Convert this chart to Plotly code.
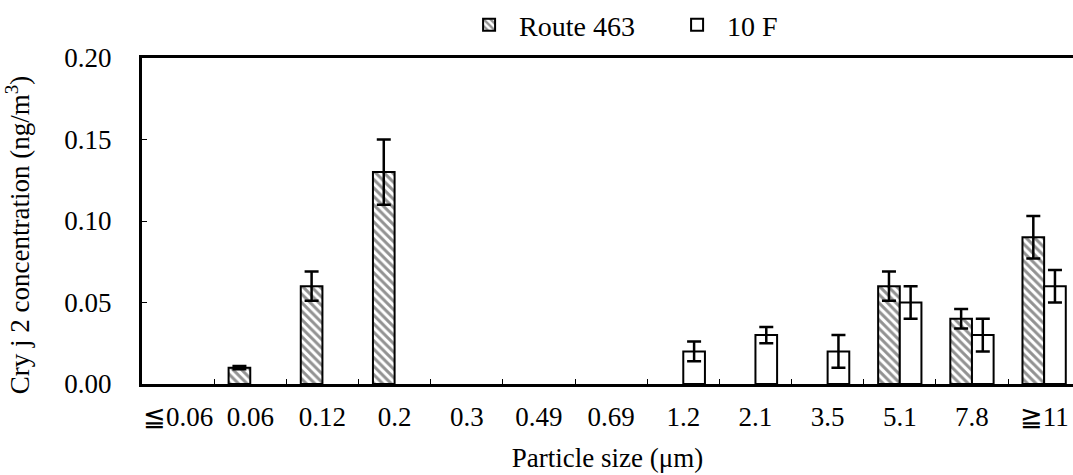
import plotly.graph_objects as go

# Particle size classes (μm) of the cascade impactor stages
sizes = ["≦0.06", "0.06", "0.12", "0.2", "0.3", "0.49", "0.69",
         "1.2", "2.1", "3.5", "5.1", "7.8", "≧11"]

# Cry j 2 concentration (ng/m3) and standard deviation at each site
route463 = [None, 0.01, 0.06, 0.13, None, None, None,
            None, None, None, 0.06, 0.04, 0.09]
route463_sd = [None, 0.001, 0.009, 0.02, None, None, None,
               None, None, None, 0.009, 0.006, 0.013]

floor10 = [None, None, None, None, None, None, None,
           0.02, 0.03, 0.02, 0.05, 0.03, 0.06]
floor10_sd = [None, None, None, None, None, None, None,
              0.006, 0.005, 0.01, 0.01, 0.01, 0.01]

FONT = "Liberation Serif"

fig = go.Figure()

fig.add_trace(go.Bar(
    name="Route 463",
    x=sizes, y=route463,
    marker=dict(
        color="white",
        line=dict(color="black", width=2),
        pattern=dict(shape="\\", fgcolor="#262626", bgcolor="white",
                     size=6, solidity=0.5),
    ),
    error_y=dict(type="data", array=route463_sd, visible=True,
                 color="black", thickness=2.5, width=7),
))

fig.add_trace(go.Bar(
    name="10 F",
    x=sizes, y=floor10,
    marker=dict(color="white", line=dict(color="black", width=2)),
    error_y=dict(type="data", array=floor10_sd, visible=True,
                 color="black", thickness=2.5, width=7),
))

fig.update_layout(
    width=1073, height=475,
    margin=dict(l=142, r=0, t=55, b=91),
    paper_bgcolor="white", plot_bgcolor="white",
    font=dict(family=FONT, size=27, color="black"),
    barmode="group", bargap=0.4, bargroupgap=0,
    showlegend=True,
    legend=dict(
        orientation="h", x=0.564, xanchor="center", y=1.025, yanchor="bottom",
        font=dict(family=FONT, size=28), entrywidth=143, itemwidth=50,
        entrywidthmode="pixels", bgcolor="rgba(0,0,0,0)",
    ),
    xaxis=dict(
        type="category", categoryorder="array", categoryarray=sizes,
        range=[-0.5, 12.40],
        showline=True, linecolor="black", linewidth=3, mirror=True,
        ticks="inside", tickson="boundaries", ticklen=5, tickcolor="black",
        tickwidth=1, ticklabelstandoff=7, tickangle=0,
        tickfont=dict(family=FONT, size=27),
        showgrid=False, zeroline=False,
        title=dict(text="Particle size (μm)",
                   font=dict(family=FONT, size=27), standoff=17),
        automargin=False,
    ),
    yaxis=dict(
        range=[0, 0.20], tickvals=[0, 0.05, 0.10, 0.15, 0.20],
        ticktext=["0.00", "0.05", "0.10", "0.15", "0.20"],
        showline=True, linecolor="black", linewidth=3, mirror=False,
        ticks="inside", ticklen=5, tickcolor="black", tickwidth=1,
        ticklabelstandoff=22, tickfont=dict(family=FONT, size=27),
        showgrid=False, zeroline=False,
        automargin=False,
    ),
    annotations=[dict(
        text="Cry j 2 concentration (ng/m<sup>3</sup>)",
        xref="paper", yref="paper", x=-0.133, y=0.457,
        xanchor="center", yanchor="middle", textangle=-90,
        showarrow=False, font=dict(family=FONT, size=27),
    )],
)

fig.write_html("out.html")
